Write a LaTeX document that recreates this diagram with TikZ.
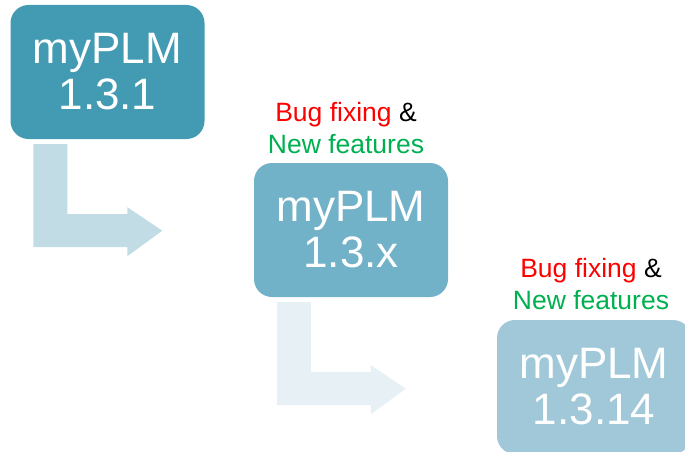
\documentclass[tikz,border=0pt]{standalone}
\usepackage{fontspec}
\setmainfont{Liberation Sans}
\usetikzlibrary{calc}
\definecolor{boxA}{RGB}{67,154,179}
\definecolor{boxB}{RGB}{113,178,201}
\definecolor{boxC}{RGB}{161,200,216}
\definecolor{arrA}{RGB}{193,220,229}
\definecolor{arrB}{RGB}{231,240,244}
\definecolor{bugred}{RGB}{255,0,0}
\definecolor{featgreen}{RGB}{0,176,80}
\tikzset{
  verbox/.style={rounded corners=18pt, minimum width=194pt, minimum height=134pt,
    inner sep=0pt, text=white, align=center, font=\fontsize{44}{46}\selectfont},
  notelabel/.style={align=center, inner sep=0pt, font=\fontsize{26.5}{32}\selectfont},
  bentarrow/.pic={
    \fill[#1] (23,5) -- (57,5) -- (57,75) -- (117,75) -- (117,68) -- (152,91.5)
      -- (117,117) -- (117,108) -- (23,108) -- cycle;
  }
}
\begin{document}
\begin{tikzpicture}[x=1pt,y=-1pt]
\useasboundingbox (0,0) rectangle (685,452);
\clip (0,0) rectangle (685,452);
\node[verbox, fill=boxA] (b1) at (107.5,72) {myPLM\\1.3.1};
\node[verbox, fill=boxB] (b2) at (351,230) {myPLM\\1.3.x};
\node[verbox, fill=boxC] (b3) at (594,387) {myPLM\\1.3.14};
\node[notelabel] (l2) at (346,128) {\textcolor{bugred}{Bug fixing} \&\\\textcolor{featgreen}{New features}};
\node[notelabel] (l3) at (591,284) {\textcolor{bugred}{Bug fixing} \&\\\textcolor{featgreen}{New features}};
\pic at (b1.south west) {bentarrow=arrA};
\pic at (b2.south west) {bentarrow=arrB};
\end{tikzpicture}
\end{document}
